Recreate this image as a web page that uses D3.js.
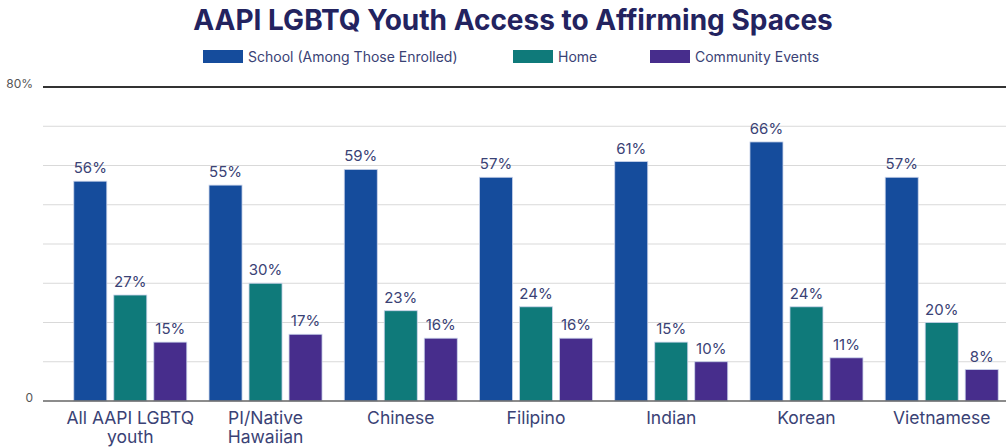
<!DOCTYPE html>
<html>
<head>
<meta charset="utf-8">
<script src="https://cdn.jsdelivr.net/npm/d3@7"></script>
<style>
  body { margin: 0; background: #fff; }
  svg { display: block; font-family: Inter, "Noto Sans", sans-serif; }
</style>
</head>
<body>
<svg id="chart" width="1006" height="447"></svg>
<script>
var categories = [["All AAPI LGBTQ", "youth"], ["PI/Native", "Hawaiian"], ["Chinese"], ["Filipino"], ["Indian"], ["Korean"], ["Vietnamese"]];
var seriesNames = ["School (Among Those Enrolled)", "Home", "Community Events"];
var school = [56, 55, 59, 57, 61, 66, 57];
var home = [27, 30, 23, 24, 15, 24, 20];
var community = [15, 17, 16, 16, 10, 11, 8];
var yTicks = [0, 80];

var colors = ["#154c9c", "#0f7a7a", "#472d8c"];
var values = [school, home, community];

var svg = d3.select("#chart");
var plotLeft = 43, plotRight = 1006, plotTop = 87, plotBottom = 401;

var x = d3.scaleBand()
    .domain(d3.range(categories.length))
    .range([62, 1010])
    .paddingInner(0.03)
    .paddingOuter(0.02);

var y = d3.scaleLinear().domain([0, 80]).range([plotBottom, plotTop]);

// grid lines every 10%
svg.append("g").selectAll("line")
    .data(d3.range(10, 80, 10))
    .enter().append("line")
    .attr("x1", plotLeft).attr("x2", plotRight)
    .attr("y1", function(d){ return y(d); })
    .attr("y2", function(d){ return y(d); })
    .attr("stroke", "#d9d9d9").attr("stroke-width", 1);

// top line
svg.append("line")
    .attr("x1", plotLeft).attr("x2", plotRight)
    .attr("y1", y(80)).attr("y2", y(80))
    .attr("stroke", "#333").attr("stroke-width", 2);

// y labels
svg.append("g").selectAll("text")
    .data(yTicks)
    .enter().append("text")
    .attr("x", 33)
    .attr("y", function(d){ return y(d) + 1; })
    .attr("text-anchor", "end")
    .attr("font-size", 12)
    .attr("fill", "#555")
    .text(function(d){ return d === 0 ? "0" : d + "%"; });

var bw = 33, gap = 7;
var groups = svg.append("g").selectAll("g.grp")
    .data(categories)
    .enter().append("g")
    .classed("grp", true)
    .attr("transform", function(d, i){ return "translate(" + (x(i) + x.bandwidth() / 2) + ",0)"; });

groups.each(function(c, i) {
    var g = d3.select(this);
    values.forEach(function(s, k) {
        var bx = (k - 1) * (bw + gap) - bw / 2;
        g.append("rect")
            .attr("x", bx)
            .attr("y", y(s[i]))
            .attr("width", bw)
            .attr("height", y(0) - y(s[i]))
            .attr("fill", colors[k])
            .attr("stroke", "#c9d3ea")
            .attr("stroke-width", 0.8);
        g.append("text")
            .attr("x", bx + bw / 2)
            .attr("y", y(s[i]) - 8)
            .attr("text-anchor", "middle")
            .attr("font-size", 15)
            .attr("fill", "#3a4275")
            .text(s[i] + "%");
    });
    var t = g.append("text")
        .attr("text-anchor", "middle")
        .attr("font-size", 17.5)
        .attr("fill", "#3a4275");
    c.forEach(function(line, j) {
        t.append("tspan").attr("x", 0).attr("y", 424 + j * 19).text(line);
    });
});

// baseline
svg.append("line")
    .attr("x1", plotLeft).attr("x2", plotRight)
    .attr("y1", y(0)).attr("y2", y(0))
    .attr("stroke", "#666").attr("stroke-width", 1.5);

// title
svg.append("text")
    .attr("x", 513).attr("y", 30)
    .attr("text-anchor", "middle")
    .attr("font-size", 28)
    .attr("font-weight", 700)
    .attr("fill", "#23235f")
    .text("AAPI LGBTQ Youth Access to Affirming Spaces");

// legend
var legX = [203, 513, 650];
var leg = svg.append("g").selectAll("g")
    .data(seriesNames)
    .enter().append("g")
    .attr("transform", function(d, i){ return "translate(" + legX[i] + ",50)"; });
leg.append("rect")
    .attr("width", 40).attr("height", 13)
    .attr("fill", function(d, i){ return colors[i]; });
leg.append("text")
    .attr("x", 45).attr("y", 12)
    .attr("font-size", 14)
    .attr("fill", "#3a4275")
    .text(function(d){ return d; });
</script>
</body>
</html>
